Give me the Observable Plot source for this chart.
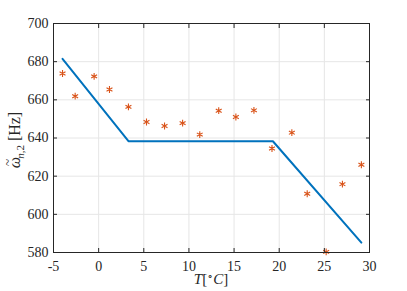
<!DOCTYPE html>
<html><head><meta charset="utf-8">
<script src="https://cdn.jsdelivr.net/npm/d3@7"></script>
<script src="https://cdn.jsdelivr.net/npm/@observablehq/plot@0.6"></script>
<style>body{margin:0;background:#fff;} svg, svg text{font-family:"Liberation Serif",serif !important;}</style>
</head><body><div id="chart"></div>
<script>
const measT = [-4.0, -2.6, -0.5, 1.2, 3.3, 5.3, 7.3, 9.3, 11.2, 13.3, 15.2, 17.2, 19.2, 21.4, 23.1, 25.2, 27.0, 29.1];
const measW = [673.8, 661.9, 672.3, 665.4, 656.3, 648.4, 646.3, 647.8, 641.8, 654.3, 651.0, 654.5, 634.5, 642.8, 610.8, 580.3, 615.8, 626.0];
const fitT = [-4.0, 3.3, 19.3, 29.1];
const fitW = [681.5, 638.3, 638.3, 585.2];
const xTicks = [-5, 0, 5, 10, 15, 20, 25, 30];
const yTicks = [580, 600, 620, 640, 660, 680, 700];

const meas = measT.map((t, i) => ({t, w: measW[i]}));
const fit = fitT.map((t, i) => ({t, w: fitW[i]}));
const ax = "#262626";
const ff = "'Liberation Serif', serif";

const plot = Plot.plot({
  width: 407, height: 291,
  marginLeft: 53, marginRight: 38, marginTop: 23, marginBottom: 39,
  x: {domain: [-5, 30]},
  y: {domain: [580, 700]},
  style: {fontFamily: ff, fontSize: "14px", color: ax, background: "#fff"},
  marks: [
    Plot.gridX(xTicks, {stroke: "#e6e6e6", strokeOpacity: 1}),
    Plot.gridY(yTicks, {stroke: "#e6e6e6", strokeOpacity: 1}),
    Plot.line(fit, {x: "t", y: "w", stroke: "#0072BD", strokeWidth: 2}),
    Plot.dot(meas, {x: "t", y: "w", symbol: "asterisk", r: 3.2, stroke: "#D95319", strokeWidth: 1.1}),
    Plot.frame({stroke: ax, strokeWidth: 1}),
    Plot.axisX(xTicks, {tickSize: -4, tickPadding: 13, label: null, stroke: ax, fill: ax, fontSize: 14, tickFormat: d => String(d)}),
    Plot.axisX(xTicks, {anchor: "top", tickSize: -4, tickFormat: () => "", label: null, stroke: ax}),
    Plot.axisY(yTicks, {tickSize: -4, tickPadding: 9, label: null, stroke: ax, fill: ax, fontSize: 14, tickFormat: d => String(d)}),
    Plot.axisY(yTicks, {anchor: "right", tickSize: -4, tickFormat: () => "", label: null, stroke: ax})
  ]
});
document.getElementById("chart").appendChild(plot);

const svg = d3.select(plot);
svg.selectAll("text").style("font-family", ff);
// x label
const xl = svg.append("text").attr("x", 211).attr("y", 284).attr("text-anchor", "middle")
  .attr("fill", ax).style("font-size", "15px").style("font-family", ff);
xl.append("tspan").attr("font-style", "italic").text("T");
xl.append("tspan").text("[");
xl.append("tspan").attr("dy", -5).style("font-size", "10px").text("∘");
xl.append("tspan").attr("dy", 5).attr("font-style", "italic").text("C");
xl.append("tspan").text("]");
// y label
const yl = svg.append("text").attr("transform", "translate(20,140) rotate(-90)").attr("text-anchor", "middle")
  .attr("fill", ax).style("font-size", "16px").style("font-family", ff);
yl.append("tspan").attr("font-style", "italic").text("ω");
yl.append("tspan").attr("dx", -9).attr("dy", -8).style("font-size", "13px").text("~");
yl.append("tspan").attr("dx", 0).attr("dy", 12).style("font-size", "11px").attr("font-style", "italic").text("n");
yl.append("tspan").style("font-size", "11px").text(",2");
yl.append("tspan").attr("dy", -4).text(" [Hz]");
</script>
</body></html>
